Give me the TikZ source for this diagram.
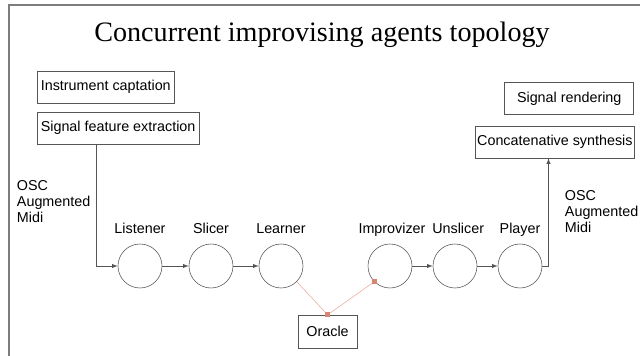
\documentclass[tikz,border=0pt]{standalone}
\usepackage{fontspec}
\setmainfont{Liberation Serif}
\setsansfont{Liberation Sans}
\usepackage{color}
\usepackage{tikz}
\usetikzlibrary{shapes, arrows, arrows.meta, positioning}

\definecolor{frameGray}{RGB}{125,125,125}
\definecolor{edgeGray}{RGB}{85,85,85}
\definecolor{linkPink}{RGB}{232,172,155}
\definecolor{dotPink}{RGB}{214,134,114}

\begin{document}
\begin{tikzpicture}[
    agent/.style={circle, draw=edgeGray, minimum size=1.1cm},
    agentLabel/.style={text height=1.6ex, text depth=0.5ex},
    box/.style={draw=edgeGray, minimum height=0.8cm, inner xsep=2.5pt},
    protocol/.style={align=left, anchor=west},
    linkDot/.style={fill=dotPink, inner sep=0pt, minimum size=0.13cm},
    every node/.style={
        font=\sffamily\fontsize{10.2}{11.4}\selectfont,
        text centered,
        }
        ]
    \useasboundingbox (0, 0) rectangle (16, 8.9);
    \draw[frameGray, line width=0.8pt] (0.225, 0) -- (0.225, 8.775) -- (16, 8.775);

    \node[font=\rmfamily\fontsize{20}{24}\selectfont] (title) at (8.05, 8.03) {Concurrent improvising agents topology};

    \node[box, anchor=west] (captation) at (0.925, 6.725) {Instrument captation};
    \node[box, anchor=west] (feature) at (0.925, 5.7) {Signal feature extraction};

    \node[box, anchor=east, minimum width=3.225cm] (rendering) at (15.85, 6.44) {Signal rendering};
    \node[box, anchor=east, inner xsep=1.5pt] (concat) at (15.875, 5.35) {Concatenative synthesis};

    \node[agent] (listener) at (3.5, 2.25) {};
    \node[agent] (slicer) at (5.275, 2.25) {};
    \node[agent] (learner) at (7.025, 2.25) {};
    \node[agent] (improvizer) at (9.75, 2.25) {};
    \node[agent] (unslicer) at (11.375, 2.25) {};
    \node[agent] (player) at (13.0, 2.25) {};

    \node[agentLabel, above=0.05cm of listener] (listenerLabel) {Listener};
    \node[agentLabel, above=0.05cm of slicer] (slicerLabel) {Slicer};
    \node[agentLabel, above=0.05cm of learner] (learnerLabel) {Learner};
    \node[agentLabel, above=0.05cm of improvizer, xshift=0.05cm] (improvizerLabel) {Improvizer};
    \node[agentLabel, above=0.05cm of unslicer, xshift=0.08cm] (unslicerLabel) {Unslicer};
    \node[agentLabel, above=0.05cm of player] (playerLabel) {Player};

    \node[box, minimum width=1.475cm, minimum height=0.825cm] (oracle) at (8.19, 0.61) {Oracle};

    \node[protocol] (oscIn) at (0.3, 3.85) {OSC\\Augmented\\Midi};
    \node[protocol] (oscOut) at (14.0, 3.6) {OSC\\Augmented\\Midi};

    \draw[->, >={latex}, edgeGray] ([xshift=-0.54cm]feature.south) |- (listener.west);
    \draw[->, >={latex}, edgeGray] (listener.east) -- (slicer.west);
    \draw[->, >={latex}, edgeGray] (slicer.east) -- (learner.west);
    \draw[->, >={latex}, edgeGray] (improvizer.east) -- (unslicer.west);
    \draw[->, >={latex}, edgeGray] (unslicer.east) -- (player.west);
    \draw[->, >={latex}, edgeGray] (player.east) -| ([xshift=-0.16cm]concat.south);

    \draw[linkPink] (learner.-45) -- (oracle.north) -- (improvizer.-135);
    \node[linkDot] (oracleDot) at (oracle.north) {};
    \node[linkDot] (improvizerDot) at (improvizer.-135) {};
\end{tikzpicture}
\end{document}
